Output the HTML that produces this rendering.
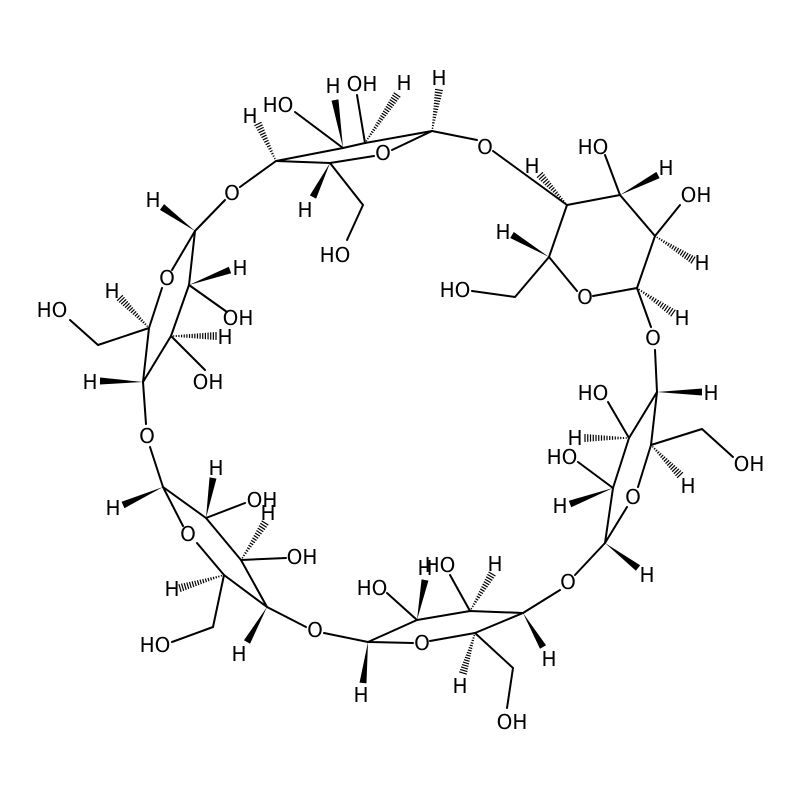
<!DOCTYPE html>
<html><head><meta charset="utf-8"><style>
html,body{margin:0;padding:0;background:#fff;}
svg text{font-family:"DejaVu Sans","Liberation Sans",sans-serif;font-size:20px;fill:#000;text-anchor:middle;dominant-baseline:central;}
</style></head><body>
<svg id="s" width="800" height="800" viewBox="0 0 800 800" xmlns="http://www.w3.org/2000/svg">
<g id="g" stroke="#000" stroke-width="2" fill="none" stroke-linecap="round" stroke-linejoin="round"></g>
<g id="w" fill="#000"></g>
<g id="h" stroke="#000" stroke-width="1.2"></g>
<!-- Ring A -->
<text x="250" y="116">H</text><text x="278" y="105">HO</text><text x="333" y="86">H</text>
<text x="362" y="84">OH</text><text x="404" y="83">H</text><text x="439" y="78">H</text>
<text x="485" y="147">O</text><text x="383" y="153">O</text><text x="305" y="210">H</text>
<text x="335" y="255">HO</text><text x="232" y="193">O</text>
<!-- Ring B -->
<text x="153" y="200">H</text><text x="167" y="278">O</text><text x="240" y="268">H</text>
<text x="238" y="318">OH</text><text x="225" y="337">H</text><text x="208" y="382">OH</text>
<text x="112" y="291">H</text><text x="52" y="310">HO</text><text x="90" y="382">H</text>
<text x="147" y="436">O</text>
<!-- Ring C -->
<text x="113" y="508">H</text><text x="188" y="534">O</text><text x="216" y="468">H</text>
<text x="262" y="500">OH</text><text x="268" y="513">H</text><text x="302" y="557">OH</text>
<text x="172" y="589">H</text><text x="155" y="645">HO</text><text x="239" y="654">H</text>
<text x="315" y="630">O</text>
<!-- Ring D -->
<text x="361" y="695">H</text><text x="422" y="643">O</text><text x="425" y="568">H</text>
<text x="372" y="588">HO</text><text x="440" y="565">HO</text><text x="495" y="564">H</text>
<text x="549" y="659">H</text><text x="568" y="582">O</text><text x="460" y="686">H</text>
<text x="512" y="722">OH</text>
<!-- Ring E -->
<text x="647" y="575">H</text><text x="633" y="497">O</text><text x="560" y="506">H</text>
<text x="562" y="457">HO</text><text x="575" y="438">H</text><text x="593" y="393">HO</text>
<text x="711" y="393">H</text><text x="653" y="338">O</text><text x="688" y="486">H</text>
<text x="749" y="464">OH</text>
<!-- Ring F -->
<text x="682" y="318">H</text><text x="585" y="297">O</text><text x="702" y="263">H</text>
<text x="696" y="195">OH</text><text x="666" y="168">H</text><text x="593" y="147">HO</text>
<text x="532" y="166">H</text><text x="503" y="232">H</text><text x="455" y="290">HO</text>
</svg>
<script>
var NS="http://www.w3.org/2000/svg";
var bonds=[
// A
[[432,131],[365,143],[343,148],[276,161],[330,163],[374,156]],[[392,150],[432,131]],
[[343,148],[295,112]],[[365,143],[357,95]],[[432,131],[477,140]],
[[330,163],[363,205],[347,240]],[[276,161],[240,187]],[[225,200],[195,231]],
// B
[[195,231],[172,270]],[[162,288],[149,328],[143,382],[171,336],[189,285],[195,231]],
[[189,285],[227,312]],[[171,336],[205,370]],[[149,328],[98,345],[70,320]],
[[143,382],[146,424]],[[150,447],[163,487]],
// C
[[163,487],[183,526]],[[197,543],[224,575],[267,607],[241,560],[206,518],[163,487]],
[[206,518],[245,503]],[[241,560],[286,558]],[[224,575],[213,627],[172,642]],
[[267,607],[306,627]],[[324,633],[368,642]],
// D
[[413,643],[368,642],[417,620],[470,611],[523,613],[475,633],[430,641]],
[[417,620],[387,593]],[[470,611],[450,575]],[[475,633],[513,668],[507,708]],
[[523,613],[560,590]],[[575,575],[605,543]],
// E
[[627,507],[605,543],[613,488],[629,438],[657,392],[651,445],[638,487]],
[[613,488],[578,462]],[[629,438],[608,402]],[[651,445],[702,429],[733,457]],
[[657,392],[655,350]],
// F
[[651,327],[637,288],[593,296]],[[577,291],[549,257],[567,205],[620,195],[655,236],[637,288]],
[[655,236],[680,205]],[[620,195],[605,155]],[[567,205],[493,151]],
[[549,257],[515,297],[472,291]]
];
var wedges=[[[330,163],[313,197]],[[343,148],[335,100]],[[195,231],[162,207]],[[189,285],[230,270]],
[[143,382],[100,381]],[[163,487],[123,505]],[[206,518],[213,478]],[[267,607],[247,642]],
[[368,642],[363,683]],[[417,620],[425,580]],[[523,613],[543,647]],[[605,543],[638,568]],
[[613,488],[570,504]],[[657,392],[702,392]],[[620,195],[658,175]],[[549,257],[512,235]]];
var hashes=[[[276,161],[258,124]],[[365,143],[397,95]],[[432,131],[439,90]],[[171,336],[216,336]],
[[149,328],[120,298]],[[241,560],[265,523]],[[224,575],[180,588]],[[470,611],[492,574]],
[[475,633],[463,673]],[[629,438],[585,438]],[[651,445],[680,475]],[[637,288],[673,313]],
[[655,236],[693,260]],[[567,205],[540,175]]];
var g=document.getElementById('g'),w=document.getElementById('w'),h=document.getElementById('h');
bonds.forEach(function(b){var p=document.createElementNS(NS,'polyline');p.setAttribute('points',b.map(function(q){return q.join(',')}).join(' '));g.appendChild(p);});
wedges.forEach(function(b){var a=b[0],c=b[1],dx=c[0]-a[0],dy=c[1]-a[1],L=Math.hypot(dx,dy),nx=-dy/L*3.5,ny=dx/L*3.5;
var p=document.createElementNS(NS,'polygon');p.setAttribute('points',a[0]+','+a[1]+' '+(c[0]+nx)+','+(c[1]+ny)+' '+(c[0]-nx)+','+(c[1]-ny));w.appendChild(p);});
hashes.forEach(function(b){var a=b[0],c=b[1],dx=c[0]-a[0],dy=c[1]-a[1],L=Math.hypot(dx,dy),n=Math.floor(L/2.6);
for(var i=1;i<=n;i++){var t=i/n,x=a[0]+dx*t,y=a[1]+dy*t,hw=0.5+3.5*t,nx=-dy/L*hw,ny=dx/L*hw;
var l=document.createElementNS(NS,'line');l.setAttribute('x1',x+nx);l.setAttribute('y1',y+ny);l.setAttribute('x2',x-nx);l.setAttribute('y2',y-ny);h.appendChild(l);}});
</script>
</body></html>
